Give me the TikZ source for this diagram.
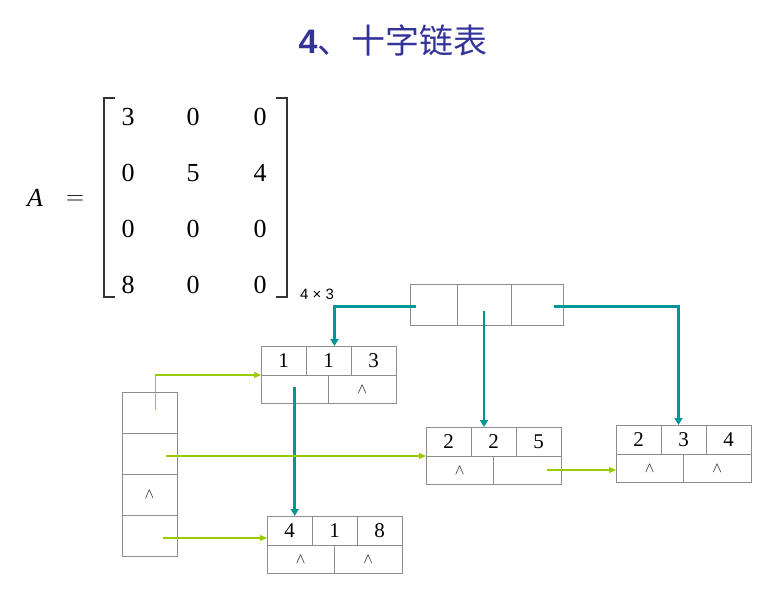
\documentclass[tikz,border=0pt]{standalone}
\usepackage{fontspec}
\setmainfont{Liberation Serif}
\newfontfamily\cjk{Noto Sans CJK SC}
\newfontfamily\arialsans{Liberation Sans}
\usetikzlibrary{arrows.meta}
\usetikzlibrary{calc}
\definecolor{titleblue}{RGB}{51,51,153}
\definecolor{linkteal}{RGB}{0,150,150}
\definecolor{linkgreen}{RGB}{153,204,0}
\definecolor{cellgray}{RGB}{140,140,140}
\tikzset{>={Triangle[length=6pt,width=6pt]}}
\tikzset{
  cell/.style={draw=cellgray, line width=1pt, inner sep=0pt, outer sep=0pt,
    font=\fontsize{21}{24}\selectfont},
  topcell/.style={cell, minimum width=45pt, minimum height=29pt},
  botcell/.style={cell, minimum width=67.5pt, minimum height=28pt},
  hdcell/.style={cell, minimum height=41pt},
  rhcell/.style={cell, minimum width=55pt, minimum height=41pt},
  entry/.style={font=\fontsize{26}{30}\selectfont},
  bracket/.style={line width=1.5pt, black!80},
  colarrow/.style={->, linkteal, line width=2.8pt, >={Triangle[length=7pt,width=8pt]}},
  rowarrow/.style={->, linkgreen, line width=1.2pt, >={Triangle[length=7pt,width=6pt]}}
}
\newcommand{\nullmark}{{\fontsize{14}{16}\selectfont$\wedge$}}
% one node of the orthogonal list: row, col, value / down, right
\newcommand{\olnode}[8]{%
  \node[topcell, anchor=north west] (#1-a) at (#2,#3) {#4};
  \node[topcell, anchor=north west] (#1-b) at (#1-a.north east) {#5};
  \node[topcell, anchor=north west] (#1-c) at (#1-b.north east) {#6};
  \node[botcell, anchor=north west] (#1-d) at (#1-a.south west) {#7};
  \node[botcell, anchor=north west] (#1-e) at (#1-d.north east) {#8};
}

\begin{document}
\begin{tikzpicture}[x=1pt, y=-1pt]
    \useasboundingbox (0,0) rectangle (766,608);
    \node[font=\fontsize{34}{38}\selectfont, text=titleblue] (title) at (393,40)
        {{\arialsans\bfseries 4}{\cjk 、十字链表}};

    % the matrix
    \node[entry] (lhs) at (35,198) {\textit{A}};
    \node[entry] (eq) at (75,200) {$=$};
    \foreach \r/\a/\b/\c in {1/3/0/0, 2/0/5/4, 3/0/0/0, 4/8/0/0} {
        \node[entry] (m\r-1) at (128,61+56*\r) {\a};
        \node[entry] (m\r-2) at (193,61+56*\r) {\b};
        \node[entry] (m\r-3) at (260,61+56*\r) {\c};
    }
    \draw[bracket] (115,98) -| (104,297) -- (115,297);
    \draw[bracket] (276,98) -| (287,297) -- (276,297);
    \node[font=\arialsans\fontsize{15}{18}\selectfont] (dim) at (317,294) {4 × 3};

    % column heads
    \node[hdcell, minimum width=47pt, anchor=north west] (hd-1) at (410,284) {};
    \node[hdcell, minimum width=54pt, anchor=north west] (hd-2) at (hd-1.north east) {};
    \node[hdcell, minimum width=52pt, anchor=north west] (hd-3) at (hd-2.north east) {};

    % row heads
    \node[rhcell] (rh-1) at (149.5,412.5) {};
    \node[rhcell] (rh-2) at (149.5,453.5) {};
    \node[rhcell] (rh-3) at (149.5,494.5) {\nullmark};
    \node[rhcell] (rh-4) at (149.5,535.5) {};

    \olnode{n1}{261}{346}{1}{1}{3}{}{\nullmark}
    \olnode{n2}{426}{427}{2}{2}{5}{\nullmark}{}
    \olnode{n3}{616}{425}{2}{3}{4}{\nullmark}{\nullmark}
    \olnode{n4}{267}{516}{4}{1}{8}{\nullmark}{\nullmark}

    % column links
    \draw[colarrow] ([shift={(6,2)}]hd-1.west) -| ([xshift=6pt]n1-b.north);
    \draw[colarrow] ([shift={(0,6)}]hd-2.center) -- (hd-2.center |- n2-b.north);
    \draw[colarrow] ([shift={(-9,2)}]hd-3.east) -| ([xshift=-5pt]n3-b.north);
    \draw[colarrow] ([shift={(0,-2)}]n1-d.center) -- (n1-d.center |- n4-a.north);

    % row links
    \coordinate (g4) at ($(rh-4.center)+(13,2.5)$);
    \draw[rowarrow] ([shift={(6,-3)}]rh-1.center) |- (n1-a.south west);
    \draw[rowarrow] ($(rh-2.center |- n2-a.south west)+(16,0)$) -- (n2-a.south west);
    \draw[rowarrow] (g4) -- (g4 -| n4-a.west);
    \draw[rowarrow] ($(n2-e.center)+(20,0)$) -- (n2-e.center -| n3-a.west);
\end{tikzpicture}
\end{document}
